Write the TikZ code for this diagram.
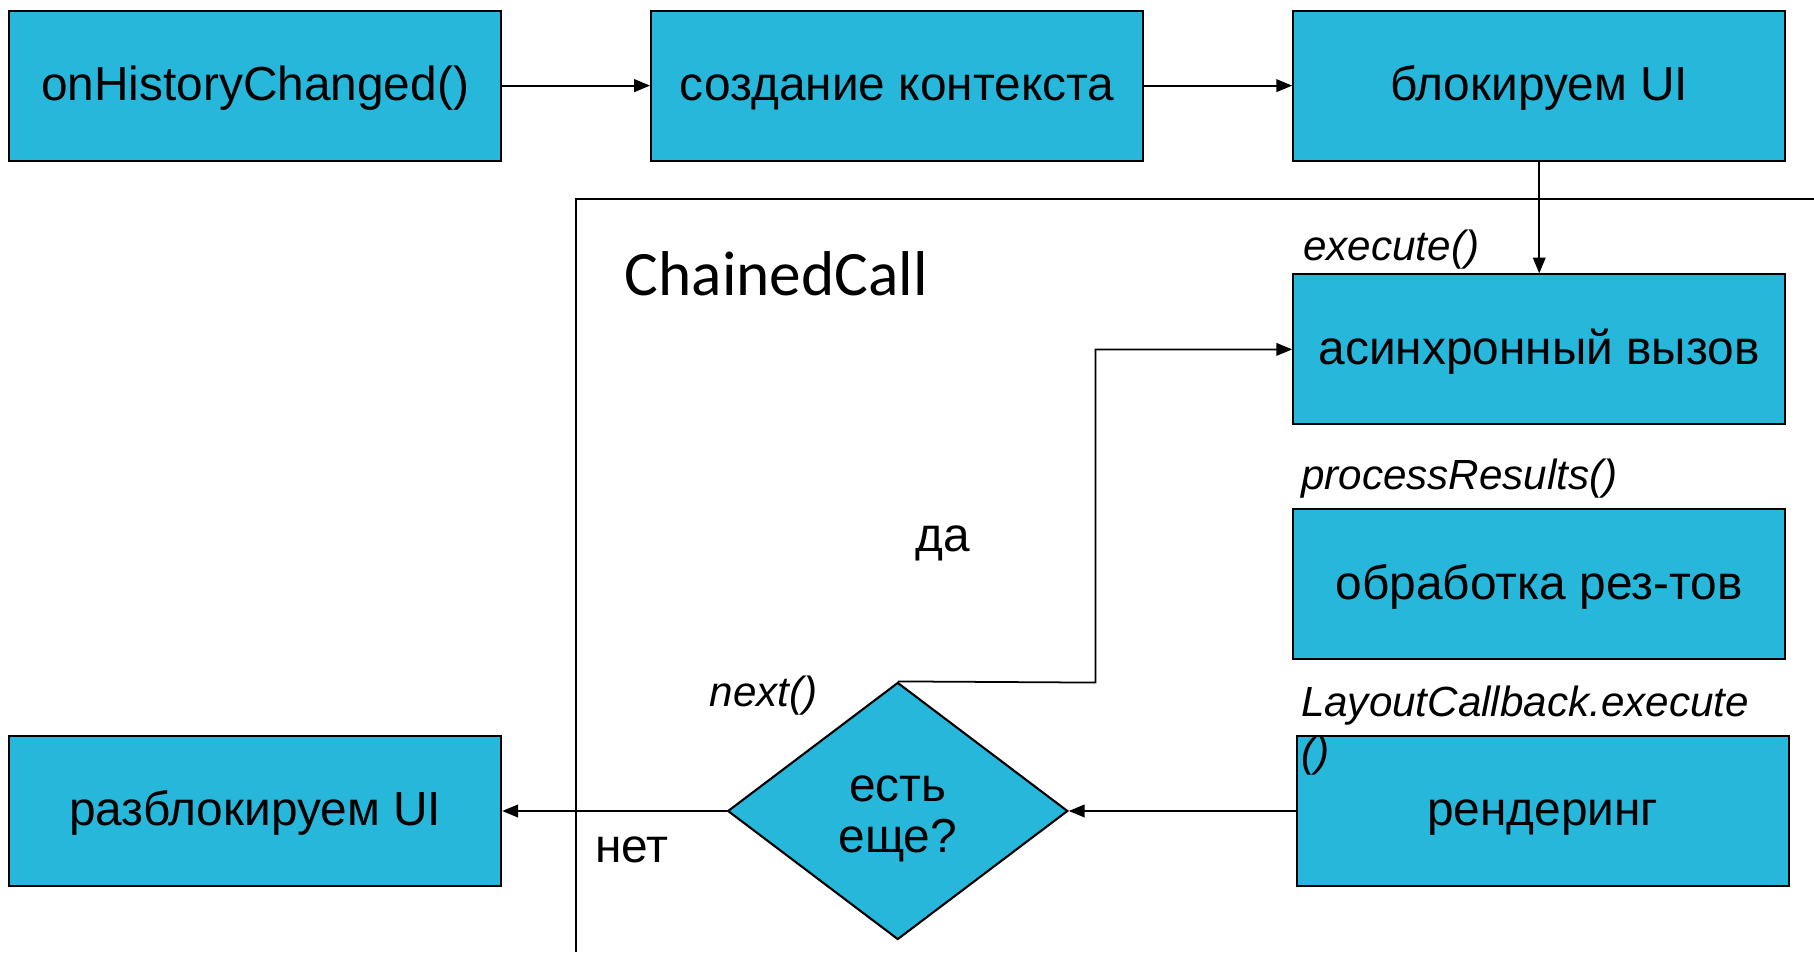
\documentclass[tikz,border=0pt]{standalone}
\usepackage{fontspec}
\setmainfont{Liberation Sans}
\newfontfamily\chainfont{Carlito}
\usepackage{tikz}
\usetikzlibrary{shapes.geometric, arrows.meta, positioning, calc}
\definecolor{boxcyan}{RGB}{38,183,219}
\definecolor{mydark}{RGB}{0,0,0}
\newcommand{\boxfont}{\fontsize{13.6}{14.6}\selectfont}
\newcommand{\callfont}{\fontsize{12}{14.2}\selectfont\itshape}
\tikzset{
  block/.style={rectangle, draw=mydark, fill=boxcyan,
    minimum width=4.92cm, minimum height=1.5cm, inner sep=0pt,
    text height=9.6pt, text depth=1.2pt,
    font=\boxfont, line width=0.6pt},
  decision/.style={diamond, draw=mydark, fill=boxcyan, aspect=1.3,
    minimum width=3.4cm, minimum height=2.57cm, inner sep=0pt,
    line width=0.6pt},
  calllabel/.style={inner sep=0pt, anchor=west, font=\callfont},
  plainlabel/.style={inner sep=0pt, font=\boxfont},
  arrow/.style={-{Stealth[length=4.5pt, width=3.6pt, inset=0pt]}, line width=0.5pt, color=mydark},
  line/.style={line width=0.5pt, color=mydark}
}

\begin{document}
\begin{tikzpicture}[x=0.01157cm, y=-0.01157cm]
  \useasboundingbox (0,0) rectangle (1568,823);

  % ChainedCall frame
  \draw[line] (1568,172) -- (498,172) -- (498,823);
  \node[inner sep=0pt, font=\chainfont\fontsize{18}{20}\selectfont] (chain) at (671,237) {ChainedCall};

  % Top row
  \node[block] (hist) at (220.5,74) {onHistoryChanged()};
  \node[block] (ctx) at (775.5,74) {создание контекста};
  \node[block] (lock) at (1330.5,74) {блокируем UI};

  % Chain steps
  \node[block] (async) at (1330.5,302) {асинхронный вызов};
  \node[block] (proc) at (1330.5,505) {обработка рез-тов};
  \node[block] (render) at (1333.5,701) {рендеринг};
  \node[decision] (more) at (776,701) {};
  \node[plainlabel, align=center] (moretext) at (776,708) {есть\\еще?};
  \node[block] (unlock) at (220.5,701) {разблокируем UI};

  % Method labels
  \node[calllabel] (lexec) at (1126,216) {execute()};
  \node[calllabel] (lproc) at (1124,414) {processResults()};
  \node[calllabel, anchor=north west, align=left] (llayout) at (1124,592) {LayoutCallback.execute\\()};
  \node[calllabel, anchor=center] (lnext) at (660,601) {next()};
  \node[plainlabel] (yes) at (815,470) {да};
  \node[plainlabel] (no) at (546,735) {нет};

  % Connections
  \draw[arrow] (hist) -- (ctx);
  \draw[arrow] (ctx) -- (lock);
  \draw[arrow] (lock) -- (async);
  \draw[arrow] (render) -- (more.east);
  \draw[arrow] (more.west) -- (unlock);
  \coordinate (turn) at (947,590);
  \draw[arrow] (more.north) -- (turn) |- (async.west);
\end{tikzpicture}
\end{document}
